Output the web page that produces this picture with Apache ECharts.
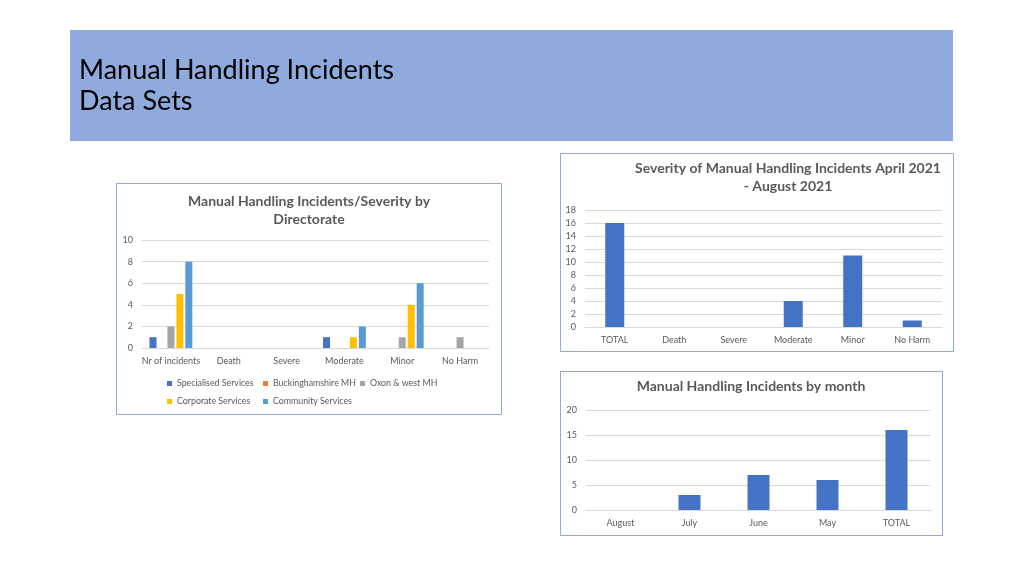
<!DOCTYPE html>
<html>
<head>
<meta charset="utf-8">
<script src="https://cdn.jsdelivr.net/npm/echarts@6/dist/echarts.min.js"></script>
<style>
html,body{margin:0;padding:0;background:#fff;}
#c{width:1024px;height:576px;}
</style>
</head>
<body>
<div id="c"></div>
<script>
// ---- Data ----
const severityCats = ['Nr of incidents', 'Death', 'Severe', 'Moderate', 'Minor', 'No Harm'];
const specialised = [1, 0, 0, 1, 0, 0];
const buckinghamshire = [0, 0, 0, 0, 0, 0];
const oxonWest = [2, 0, 0, 0, 1, 1];
const corporate = [5, 0, 0, 1, 4, 0];
const community = [8, 0, 0, 2, 6, 0];

const totalCats = ['TOTAL', 'Death', 'Severe', 'Moderate', 'Minor', 'No Harm'];
const totalValues = [16, 0, 0, 4, 11, 1];

const monthCats = ['August', 'July', 'June', 'May', 'TOTAL'];
const monthValues = [0, 3, 7, 6, 16];

const FONT = 'Lato, "Open Sans", sans-serif';
const TXT = '#595959';
const GRIDC = '#D9D9D9';

function xAx(gi, cats) {
  return {
    type: 'category', gridIndex: gi, data: cats,
    axisTick: {show: false},
    axisLine: {show: true, lineStyle: {color: GRIDC}},
    axisLabel: {color: TXT, fontSize: 9, fontFamily: FONT, margin: 9, interval: 0}
  };
}
function yAx(gi, max, interval) {
  return {
    type: 'value', gridIndex: gi, min: 0, max: max, interval: interval,
    axisLine: {show: false}, axisTick: {show: false},
    splitLine: {lineStyle: {color: GRIDC}},
    axisLabel: {color: TXT, fontSize: 9, fontFamily: FONT, margin: 9}
  };
}
function barS(name, data, color, xi, extra) {
  return Object.assign({
    name: name, type: 'bar', data: data, xAxisIndex: xi, yAxisIndex: xi,
    itemStyle: {color: color}, animation: false
  }, extra || {});
}
function legendAt(name, left, top) {
  return {
    data: [name], left: left, top: top, itemWidth: 5, itemHeight: 5, icon: 'rect',
    padding: 0,
    textStyle: {color: TXT, fontSize: 8.8, fontFamily: FONT}
  };
}

const chart = echarts.init(document.getElementById('c'));
const titleFont = 'bold 14px ' + FONT;

chart.setOption({
  animation: false,
  graphic: [
    {type: 'rect', shape: {x: 70, y: 30, width: 883, height: 111}, style: {fill: '#8FAADC'}, z: -10},
    {type: 'text', x: 79, y: 55, style: {text: 'Manual Handling Incidents\nData Sets', font: '27px ' + FONT, fill: '#000', lineHeight: 31}},
    {type: 'rect', shape: {x: 116.5, y: 183.5, width: 385, height: 231}, style: {fill: '#fff', stroke: '#8EA9DB', lineWidth: 1}, z: -10},
    {type: 'rect', shape: {x: 560.5, y: 153.5, width: 393, height: 198}, style: {fill: '#fff', stroke: '#8EA9DB', lineWidth: 1}, z: -10},
    {type: 'rect', shape: {x: 560.5, y: 371.5, width: 382, height: 164}, style: {fill: '#fff', stroke: '#8EA9DB', lineWidth: 1}, z: -10},
    {type: 'text', x: 309, y: 192, style: {text: 'Manual Handling Incidents/Severity by\nDirectorate', textAlign: 'center', font: titleFont, fill: TXT, lineHeight: 18}},
    {type: 'text', x: 788, y: 159, style: {text: 'Severity of Manual Handling Incidents April 2021\n- August 2021', textAlign: 'center', font: titleFont, fill: TXT, lineHeight: 18}},
    {type: 'text', x: 751, y: 379, style: {text: 'Manual Handling Incidents by month', textAlign: 'center', font: titleFont, fill: TXT}}
  ],
  grid: [
    {left: 142, top: 240, width: 347, height: 108},
    {left: 585, top: 210, width: 357, height: 117},
    {left: 586, top: 410, width: 345, height: 100}
  ],
  xAxis: [xAx(0, severityCats), xAx(1, totalCats), xAx(2, monthCats)],
  yAxis: [yAx(0, 10, 2), yAx(1, 18, 2), yAx(2, 20, 5)],
  legend: [
    legendAt('Specialised Services', 167, 379),
    legendAt('Buckinghamshire MH', 263, 379),
    legendAt('Oxon & west MH', 360, 379),
    legendAt('Corporate Services', 167, 397),
    legendAt('Community Services', 263, 397)
  ],
  series: [
    barS('Specialised Services', specialised, '#4472C4', 0, {barWidth: 7, barGap: '28%'}),
    barS('Buckinghamshire MH', buckinghamshire, '#ED7D31', 0, {barWidth: 7, barGap: '28%'}),
    barS('Oxon & west MH', oxonWest, '#A5A5A5', 0, {barWidth: 7, barGap: '28%'}),
    barS('Corporate Services', corporate, '#FFC000', 0, {barWidth: 7, barGap: '28%'}),
    barS('Community Services', community, '#5B9BD5', 0, {barWidth: 7, barGap: '28%'}),
    barS('Severity', totalValues, '#4472C4', 1, {barWidth: 19}),
    barS('By month', monthValues, '#4472C4', 2, {barWidth: 22})
  ]
});
</script>
</body>
</html>
